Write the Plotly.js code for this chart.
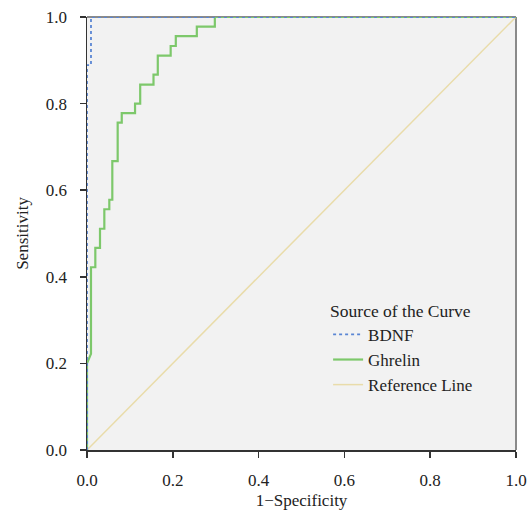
<!DOCTYPE html>
<html>
<head>
<meta charset="utf-8">
<script src="https://cdn.plot.ly/plotly-3.0.1.min.js"></script>
<style>html,body{margin:0;padding:0;background:#fff;}#chart{width:531px;height:518px;}</style>
</head>
<body>
<div id="chart"></div>
<script>
// ROC curve coordinates (1-Specificity, Sensitivity)
const bdnfFpr = [0, 0, 0.0093, 0.0093, 1];
const bdnfTpr = [0, 0.889, 0.889, 1, 1];

const ghrelinFpr = [0, 0, 0.0093, 0.0093, 0.0194, 0.0194, 0.0303, 0.0303, 0.0404, 0.0404,
  0.052, 0.052, 0.059, 0.059, 0.0715, 0.0715, 0.081, 0.081, 0.112, 0.112,
  0.124, 0.124, 0.155, 0.155, 0.165, 0.165, 0.195, 0.195, 0.207, 0.207,
  0.256, 0.256, 0.298, 0.298, 1];
const ghrelinTpr = [0, 0.2, 0.222, 0.422, 0.422, 0.467, 0.467, 0.511, 0.511, 0.556,
  0.556, 0.578, 0.578, 0.667, 0.667, 0.756, 0.756, 0.778, 0.778, 0.8,
  0.8, 0.844, 0.844, 0.867, 0.867, 0.911, 0.911, 0.933, 0.933, 0.956,
  0.956, 0.978, 0.978, 1, 1];

const refX = [0, 1];
const refY = [0, 1];

const tickVals = [0, 0.2, 0.4, 0.6, 0.8, 1.0];
const tickText = ['0.0', '0.2', '0.4', '0.6', '0.8', '1.0'];

const serif = 'Liberation Serif, Times New Roman, serif';

const traces = [
  {x: refX, y: refY, mode: 'lines', name: 'Reference Line', legendrank: 3,
   line: {color: '#e9dcaa', width: 1.5}, hoverinfo: 'skip'},
  {x: ghrelinFpr, y: ghrelinTpr, mode: 'lines', name: 'Ghrelin', legendrank: 2,
   line: {color: '#7dc86b', width: 2.2}},
  {x: bdnfFpr, y: bdnfTpr, mode: 'lines', name: 'BDNF', legendrank: 1,
   line: {color: '#5a86d4', width: 1.8, dash: 'dot'}}
];

const axisCommon = {
  range: [0, 1],
  tickvals: tickVals,
  ticktext: tickText,
  ticks: 'outside',
  ticklen: 6,
  tickwidth: 1.5,
  tickcolor: '#333',
  showline: true,
  linecolor: '#333',
  linewidth: 1.5,
  showgrid: false,
  zeroline: false,
  tickfont: {family: serif, size: 17, color: '#222'},
  fixedrange: true
};

const layout = {
  width: 531,
  height: 518,
  margin: {l: 87, r: 15, t: 17, b: 68},
  paper_bgcolor: '#ffffff',
  plot_bgcolor: '#f2f2f2',
  font: {family: serif, color: '#222'},
  xaxis: Object.assign({}, axisCommon, {
    ticklabelstandoff: 8,
    title: {text: '1\u2212Specificity', font: {family: serif, size: 17, color: '#222'}, standoff: 5}
  }),
  yaxis: Object.assign({}, axisCommon, {
    ticklabelstandoff: 9,
    title: {text: 'Sensitivity', font: {family: serif, size: 17, color: '#222'}, standoff: 13}
  }),
  showlegend: true,
  legend: {
    title: {text: 'Source of the Curve', font: {family: serif, size: 17.5, color: '#222'}},
    font: {family: serif, size: 17, color: '#222'},
    x: 0.562, y: 0.36, xanchor: 'left', yanchor: 'top',
    bgcolor: 'rgba(0,0,0,0)',
    itemwidth: 30,
    tracegroupgap: 0
  },
  shapes: [
    {type: 'line', xref: 'paper', yref: 'paper', x0: 0, x1: 1, y0: 1, y1: 1,
     line: {color: '#8a8a8a', width: 2}, layer: 'below'},
    {type: 'line', xref: 'paper', yref: 'paper', x0: 1, x1: 1, y0: 0, y1: 1,
     line: {color: '#8a8a8a', width: 2}, layer: 'below'}
  ]
};

Plotly.newPlot('chart', traces, layout, {displayModeBar: false, staticPlot: true});
</script>
</body>
</html>
